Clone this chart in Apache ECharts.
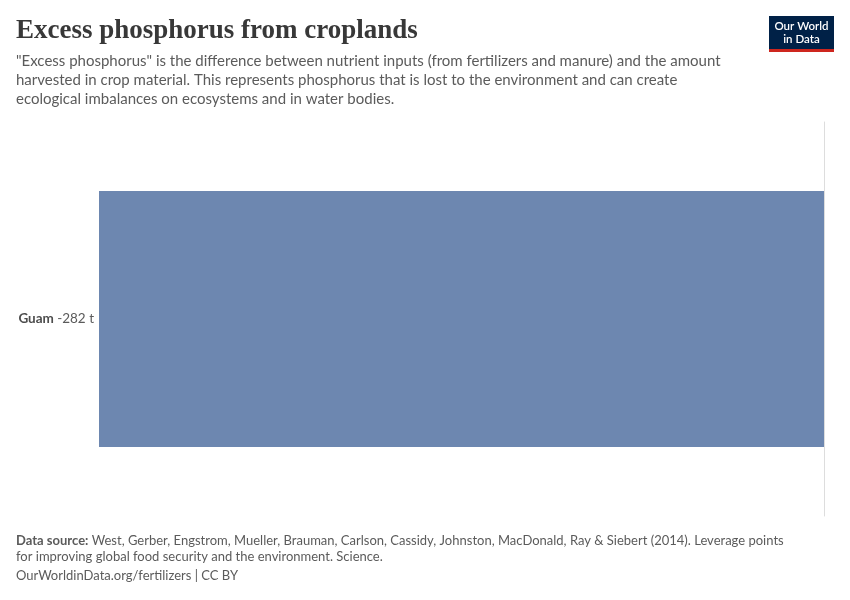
<!DOCTYPE html>
<html><head><meta charset="utf-8">
<script src="https://cdn.jsdelivr.net/npm/echarts@6/dist/echarts.min.js"></script>
<style>html,body{margin:0;padding:0;background:#fff}#c{width:850px;height:600px}</style>
</head><body><div id="c"></div>
<script>
const categories = ['Guam'];
const values = [-282];
const unit = ' t';

const chart = echarts.init(document.getElementById('c'), null, {renderer:'canvas'});
const fmt = v => (v < 0 ? '-' : '') + Math.abs(v).toLocaleString('en-US') + unit;

chart.setOption({
  animation: false,
  grid: {left: 99, right: 26, top: 122, bottom: 84, containLabel: false},
  xAxis: {type: 'value', min: -282, max: 0, show: true,
    axisLine: {show: false}, axisTick: {show: false}, axisLabel: {show: false}, splitLine: {show: false}},
  yAxis: {type: 'category', data: categories,
    axisLine: {show: true, onZero: true, lineStyle: {color: '#dddddd', width: 1}},
    axisTick: {show: false}, axisLabel: {show: false}},
  series: [{
    type: 'bar', data: values, barWidth: 256,
    itemStyle: {color: '#6d87b0'},
    label: {show: true, position: 'left', distance: 5,
      formatter: p => '{b|' + p.name + '} {v|' + fmt(p.value) + '}',
      rich: {
        b: {fontFamily: 'Lato', fontWeight: 'bold', fontSize: 13.5, color: '#4d4d4d'},
        v: {fontFamily: 'Lato', fontSize: 13.5, color: '#5b5b5b'}
      }}
  }],
  graphic: [
    {type: 'text', left: 16, top: 18, style: {text: 'Excess phosphorus from croplands',
      font: 'bold 27px "Liberation Serif", serif', fill: '#383838'}},
    {type: 'text', left: 16, top: 52, style: {
      text: '"Excess phosphorus" is the difference between nutrient inputs (from fertilizers and manure) and the amount\nharvested in crop material. This represents phosphorus that is lost to the environment and can create\necological imbalances on ecosystems and in water bodies.',
      font: '15px Lato, sans-serif', fill: '#5b5b5b', lineHeight: 19}},
    {type: 'rect', shape: {x: 769, y: 16, width: 65, height: 34}, style: {fill: '#002147'}},
    {type: 'rect', shape: {x: 769, y: 49, width: 65, height: 3}, style: {fill: '#ce261e'}},
    {type: 'text', x: 801.5, y: 20, style: {text: 'Our World\nin Data', font: '600 11.5px Lato, sans-serif',
      fill: '#ffffff', align: 'center', lineHeight: 13}},
    {type: 'text', left: 16, top: 533, style: {
      text: '{b|Data source:} West, Gerber, Engstrom, Mueller, Brauman, Carlson, Cassidy, Johnston, MacDonald, Ray & Siebert (2014). Leverage points\nfor improving global food security and the environment. Science.',
      font: '13px Lato, sans-serif', fill: '#5b5b5b', lineHeight: 16,
      rich: {b: {font: 'bold 13px Lato, sans-serif', fill: '#5b5b5b'}}}},
    {type: 'text', left: 16, top: 569, style: {text: 'OurWorldinData.org/fertilizers | CC BY',
      font: '13px Lato, sans-serif', fill: '#5b5b5b'}}
  ]
});
</script></body></html>
